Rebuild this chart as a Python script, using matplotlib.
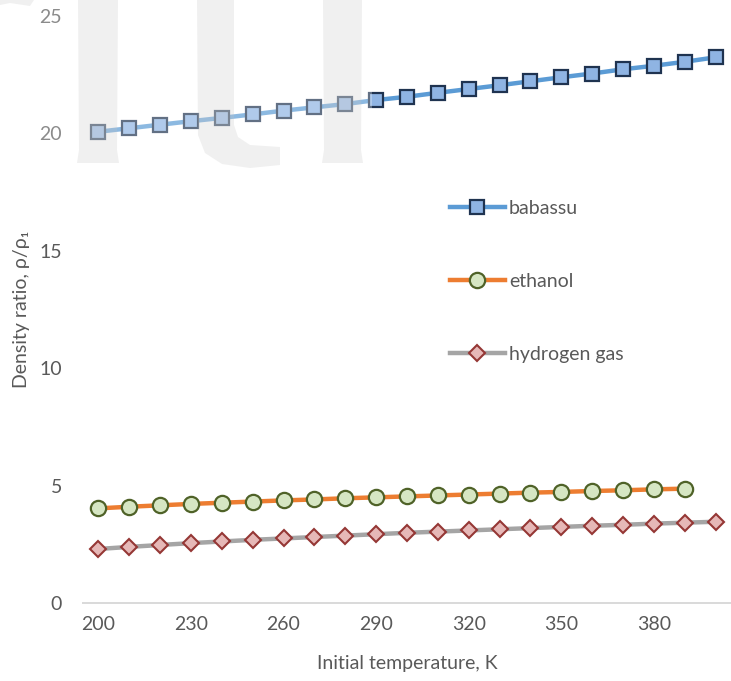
import matplotlib
matplotlib.use('Agg')
import matplotlib.pyplot as plt
from matplotlib.patches import Polygon, Rectangle

# data
temp = [200, 210, 220, 230, 240, 250, 260, 270, 280, 290, 300,
        310, 320, 330, 340, 350, 360, 370, 380, 390, 400]
babassu = [20.07, 20.22, 20.37, 20.52, 20.66, 20.81, 20.97, 21.11, 21.25, 21.42, 21.56,
           21.73, 21.89, 22.05, 22.22, 22.39, 22.55, 22.73, 22.88, 23.05, 23.24]
ethanol = [4.03, 4.10, 4.16, 4.22, 4.27, 4.32, 4.37, 4.41, 4.46, 4.50,
           4.54, 4.58, 4.62, 4.66, 4.70, 4.73, 4.77, 4.80, 4.84, 4.87]
hydrogen = [2.30, 2.39, 2.47, 2.55, 2.62, 2.69, 2.75, 2.81, 2.87, 2.93, 2.99,
            3.04, 3.09, 3.14, 3.19, 3.24, 3.29, 3.33, 3.38, 3.42, 3.46]
xticks = [200, 230, 260, 290, 320, 350, 380]
yticks = [0, 5, 10, 15, 20, 25]

plt.rcParams['font.family'] = ['Lato', 'DejaVu Sans']
txt = '#595959'
fs = 14

W, H = 731, 681
fig = plt.figure(figsize=(W / 100, H / 100), dpi=100)
ax = fig.add_axes([83 / W, 1 - 603 / H, 648 / W, 587 / H])

ax.plot(temp, babassu, color='#5B9BD5', lw=3.2, marker='s', ms=10,
        mfc='#8FB4E3', mec='#1F3350', mew=1.6, label='babassu', clip_on=False)
ax.plot(temp[:len(ethanol)], ethanol, color='#ED7D31', lw=3.2, marker='o', ms=11,
        mfc='#D6E6C3', mec='#4F6228', mew=1.6, label='ethanol', clip_on=False)
ax.plot(temp, hydrogen, color='#A5A5A5', lw=3.2, marker='D', ms=8.5,
        mfc='#E6B8B7', mec='#953735', mew=1.5, label='hydrogen gas', clip_on=False)

ax.set_xlim(195, 405)
ax.set_ylim(0, 25)
ax.set_xticks(xticks)
ax.set_yticks(yticks)
ax.tick_params(length=0, labelsize=fs, colors=txt)
ax.tick_params(axis='y', pad=15)
ax.tick_params(axis='x', pad=9)
for s in ['top', 'right', 'left']:
    ax.spines[s].set_visible(False)
ax.spines['bottom'].set_color('#D9D9D9')
ax.spines['bottom'].set_linewidth(1.4)

ax.set_xlabel('Initial temperature, K', fontsize=fs, color=txt, labelpad=16)
ax.set_ylabel('Density ratio, ρ/ρ₁', fontsize=fs, color=txt, labelpad=7)

leg = ax.legend(loc='upper left', bbox_to_anchor=(0.566, 0.6867), frameon=False,
                fontsize=fs, labelspacing=2.87, handlelength=2.85,
                handletextpad=0.2, borderpad=0, borderaxespad=0, numpoints=1)
for t in leg.get_texts():
    t.set_color(txt)


# watermark overlay (pixel coords from top-left)
def px(pts):
    return [(x / W, 1 - y / H) for x, y in pts]


fig.add_artist(Rectangle((0, 1 - 175 / H), 372 / W, 175 / H, transform=fig.transFigure,
                         facecolor='white', alpha=0.3, edgecolor='none', zorder=10))
shapes = [
    [(78, 0), (118, 0), (117, 150), (119, 163), (77, 163), (79, 150)],
    [(197, 0), (234, 0), (234, 125), (238, 137), (250, 145), (280, 147), (280, 165),
     (250, 168), (222, 164), (205, 153), (198, 135)],
    [(323, 0), (362, 0), (361, 150), (363, 163), (322, 163), (324, 150)],
    [(0, 0), (34, 0), (30, 6), (10, 3), (0, 5)],
]
for s in shapes:
    fig.add_artist(Polygon(px(s), closed=True, transform=fig.transFigure,
                           facecolor='#c4c4c4', alpha=0.25, edgecolor='none', zorder=11))

fig.savefig('out.png', dpi=100)
